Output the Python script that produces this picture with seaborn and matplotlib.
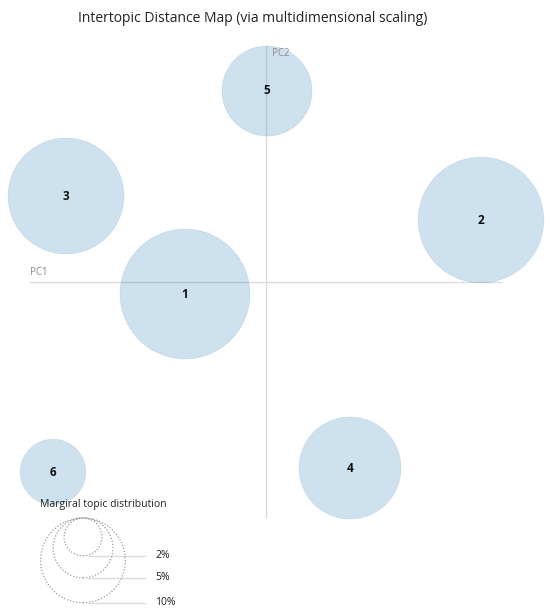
import numpy as np
import pandas as pd
import seaborn as sns
import matplotlib.pyplot as plt

# topic positions from the MDS projection and their marginal share (%)
topics = [1, 2, 3, 4, 5, 6]
pc1 = [-0.081, 0.215, -0.200, 0.084, 0.001, -0.213]
pc2 = [-0.012, 0.062, 0.086, -0.186, 0.191, -0.190]
share = [23.5, 22.0, 18.7, 14.5, 11.3, 6.0]

legend_pcts = [2, 5, 10]
legend_labels = ["2%", "5%", "10%"]

sns.set_theme(style="white")
plt.rcParams['font.family'] = ['Open Sans', 'DejaVu Sans']

df = pd.DataFrame({"topic": topics, "PC1": pc1, "PC2": pc2, "share": share})

fig = plt.figure(figsize=(5.5, 6.13), dpi=100)
ax = fig.add_axes([0, 0, 1, 1])
ax.set_xlim(-0.266, 0.284)
ax.set_ylim(-0.331, 0.282)
ax.set_axis_off()

# radius in px = k * sqrt(pct); 1 data unit = 1000 px; marker size in pt^2
k = 13.4
s_per_pct = (2 * k * 0.72) ** 2
norm_max = 30

# axes cross
ext = 0.236
ax.plot([-ext, ext], [0, 0], color="#dcdcdc", lw=1, zorder=1)
ax.plot([0, 0], [-ext, ext], color="#dcdcdc", lw=1, zorder=1)
ax.text(-ext, 0.004, "PC1", fontsize=7, color="#8a8a8a", ha="left", va="bottom")
ax.text(0.006, ext - 0.002, "PC2", fontsize=7, color="#8a8a8a", ha="left", va="top")

sns.scatterplot(data=df, x="PC1", y="PC2", size="share",
                sizes=(0, s_per_pct * norm_max), size_norm=(0, norm_max),
                color="#1f77b4", alpha=0.22, edgecolor="#7f9bb3",
                linewidth=0.5, legend=False, ax=ax, zorder=2)
for t, x, y in zip(topics, pc1, pc2):
    ax.text(x, y, str(t), ha="center", va="center",
            fontsize=8.5, fontweight="bold", color="#111111", zorder=3)

# marginal topic distribution key
leg_x = -0.183
leg_top = -0.236
radii = [k * np.sqrt(p) / 1000 for p in legend_pcts]
leg = pd.DataFrame({"x": [leg_x] * 3,
                    "y": [leg_top - r for r in radii],
                    "pct": legend_pcts})
sns.scatterplot(data=leg, x="x", y="y", size="pct",
                sizes=(0, s_per_pct * norm_max), size_norm=(0, norm_max),
                facecolor="none", edgecolor="#999999", linewidth=0.9,
                linestyle=(0, (1, 1.5)), legend=False, ax=ax, zorder=2)
for r, lab in zip(radii, legend_labels):
    yb = leg_top - 2 * r
    ax.plot([leg_x + 0.005, -0.121], [yb, yb], color="#dcdcdc", lw=1, zorder=1)
    ax.text(-0.111, yb, lab, fontsize=7.5, color="#222222", ha="left", va="center")
ax.text(-0.226, -0.223, "Margiral topic distribution", fontsize=7.5,
        color="#222222", ha="left", va="center")

fig.text(253 / 550, 1 - 18 / 613,
         "Intertopic Distance Map (via multidimensional scaling)",
         ha="center", va="center", fontsize=10, color="#222222")

fig.savefig("out.png", dpi=100)
